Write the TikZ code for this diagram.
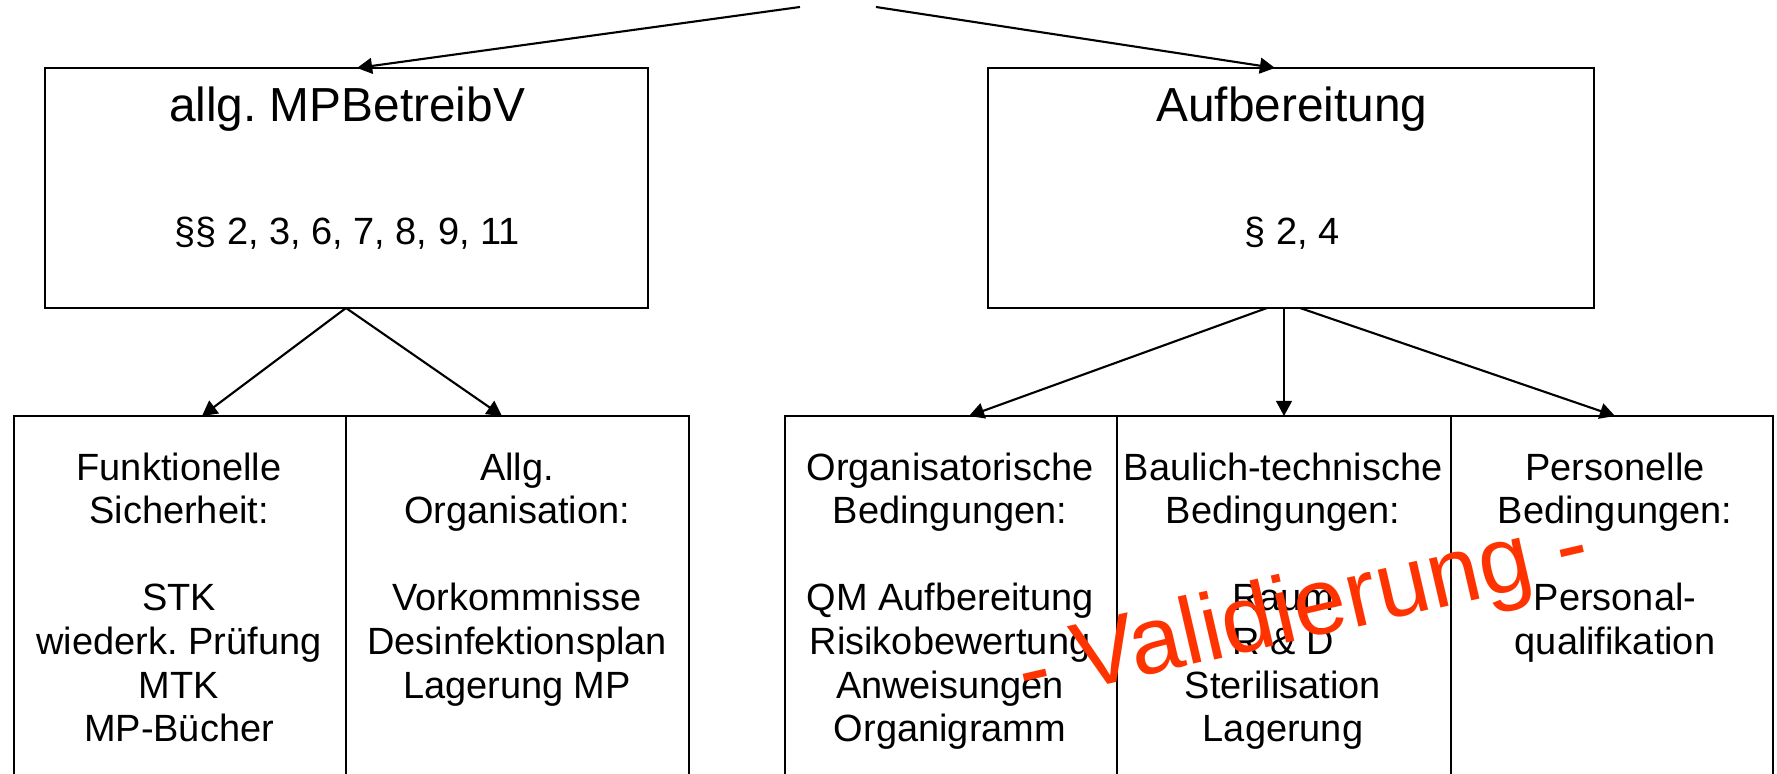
\documentclass[tikz,border=0pt]{standalone}
\usepackage{fontspec}
\setmainfont{Liberation Sans}
\usetikzlibrary{arrows.meta,positioning}
\definecolor{valred}{RGB}{255,51,0}

\tikzset{
  box/.style={draw,line width=0.6pt,inner sep=0pt},
  txt/.style={align=center,inner sep=0pt,anchor=north,font=\fontsize{10.8}{12.4}\selectfont},
  ttl/.style={inner sep=0pt,anchor=base,font=\fontsize{13.6}{16}\selectfont},
  arr/.style={-{Triangle[length=4.3pt,width=4.5pt]},line width=0.6pt}
}

\begin{document}
\frenchspacing
\begin{tikzpicture}[x=0.1mm,y=-0.1mm]
\useasboundingbox (0,0) rectangle (1777,774);

% upper boxes
\node (mpb) [box,minimum width=60.3mm,minimum height=24mm] at (346.5,188) {};
\node (aufb) [box,minimum width=60.6mm,minimum height=24mm] at (1291,188) {};

\node (mpbt) [ttl] at (347,122) {allg. MPBetreibV};
\node (mpbp) [txt,anchor=base] at (347,245) {§§ 2, 3, 6, 7, 8, 9, 11};
\node (aufbt) [ttl] at (1292,122) {Aufbereitung};
\node (aufbp) [txt,anchor=base] at (1292,245) {§ 2, 4};

% lower boxes
\node (b0) [box,minimum width=33.2mm,minimum height=38.4mm] at (180,608) {};
\node (b1) [box,minimum width=34.3mm,minimum height=38.4mm] at (517.5,608) {};
\node (b2) [box,minimum width=33.2mm,minimum height=38.4mm] at (951,608) {};
\node (b3) [box,minimum width=33.4mm,minimum height=38.4mm] at (1284,608) {};
\node (b4) [box,minimum width=32.2mm,minimum height=38.4mm] at (1612,608) {};

\node (l0) [txt] at (179,452) {Funktionelle\\Sicherheit:\\[12.4pt]STK\\wiederk. Prüfung\\MTK\\MP-Bücher};
\node (l1) [txt] at (517,452) {Allg.\\Organisation:\\[12.4pt]Vorkommnisse\\Desinfektionsplan\\Lagerung MP};
\node (l2) [txt] at (950,452) {Organisatorische\\Bedingungen:\\[12.4pt]QM Aufbereitung\\Risikobewertung\\Anweisungen\\Organigramm};
\node (l3) [txt] at (1283,452) {Baulich-technische\\Bedingungen:\\[12.4pt]Raum\\R \& D\\Sterilisation\\Lagerung};
\node (l4) [txt] at (1615,452) {Personelle\\Bedingungen:\\[12.4pt]Personal-\\qualifikation};

% arrow ends
\coordinate (s0) at (800,7);
\coordinate (s1) at (876,7);
\coordinate (t0) at (357,68);
\coordinate (t1) at (1275,68);
\coordinate (u0) at (346,308);
\coordinate (u1) at (346,308);
\coordinate (u2) at (1267,308);
\coordinate (u3) at (1284,308);
\coordinate (u4) at (1300,308);
\coordinate (v0) at (202,416);
\coordinate (v1) at (502,416);
\coordinate (v2) at (969,416);
\coordinate (v3) at (1284,416);
\coordinate (v4) at (1615,416);

\foreach \a/\b in {s0/t0,s1/t1,u0/v0,u1/v1,u2/v2,u3/v3,u4/v4} {
\draw[arr] (\a) -- (\b);
};

\node (val) [rotate=13,text=valred,inner sep=0pt,font=\fontsize{27}{32}\selectfont] at (1304,614) {- Validierung -};
\end{tikzpicture}
\end{document}
